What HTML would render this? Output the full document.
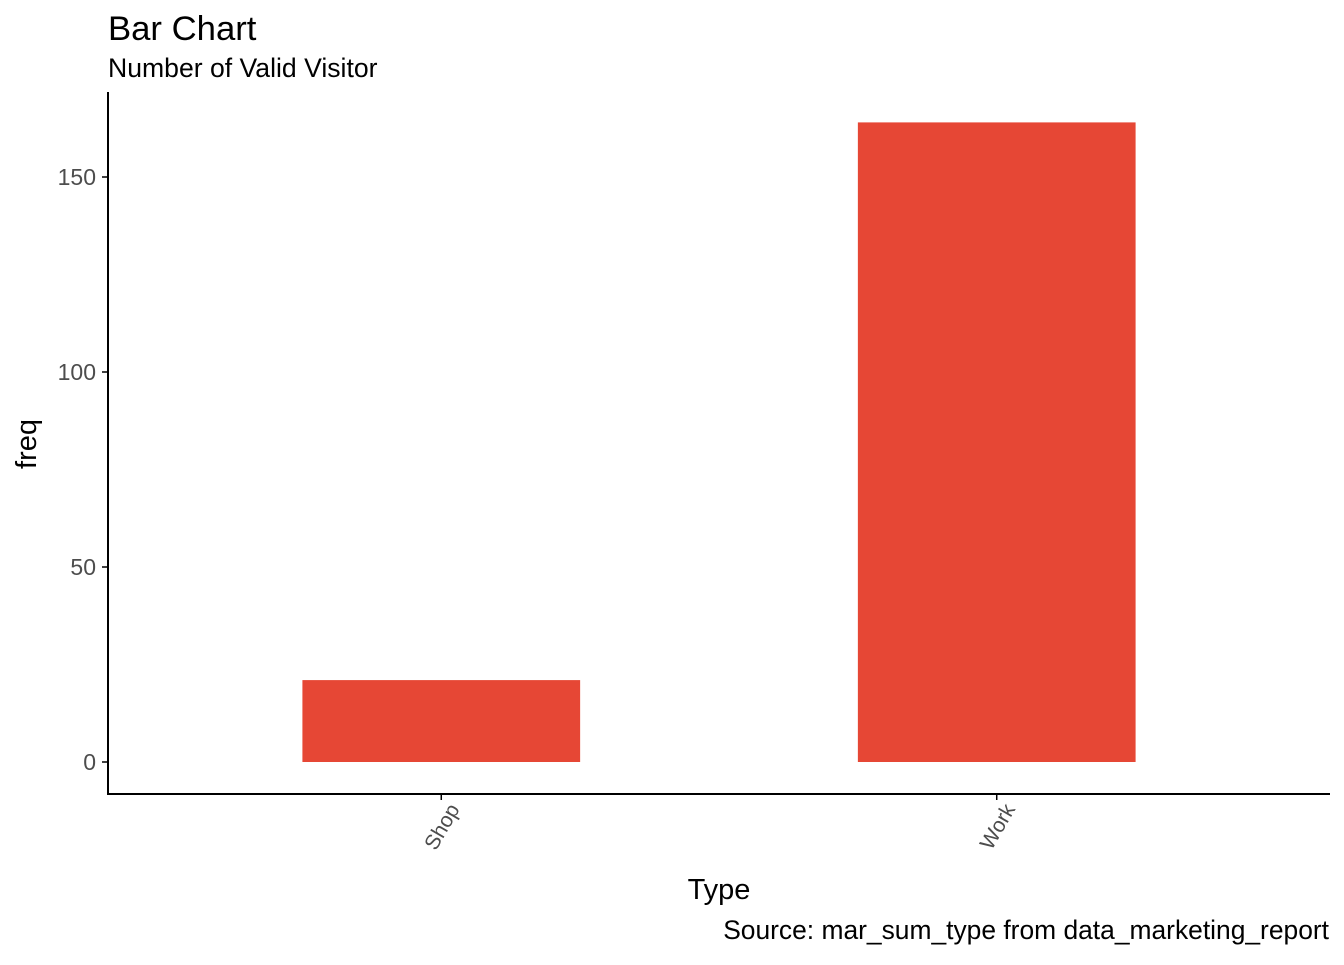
<!DOCTYPE html>
<html><head><meta charset="utf-8"><style>
html,body{margin:0;padding:0;background:#fff}
svg text{font-family:"Liberation Sans",Arial,sans-serif}
</style></head><body>
<svg id="chart" width="1344" height="960" xmlns="http://www.w3.org/2000/svg">
<text x="108" y="40" font-size="34.7" fill="#000">Bar Chart</text>
<text x="108" y="77" font-size="26.6" fill="#000">Number of Valid Visitor</text>
<g id="bars"></g>
<g id="yaxis"></g>
<g id="xaxis"></g>
<line x1="108" y1="92" x2="108" y2="795" stroke="#000" stroke-width="2"/>
<line x1="107" y1="794" x2="1330" y2="794" stroke="#000" stroke-width="2"/>
<text transform="translate(36,444) rotate(-90)" text-anchor="middle" font-size="29" fill="#000">freq</text>
<text x="719" y="899" text-anchor="middle" font-size="29" fill="#000">Type</text>
<text x="1329" y="939" text-anchor="end" font-size="26.4" fill="#000">Source: mar_sum_type from data_marketing_report</text>
</svg>
<script>
const categories = ["Shop", "Work"];
const values = [21, 164];
const yTicks = [0, 50, 100, 150];
const NS = "http://www.w3.org/2000/svg";
const plotL = 108, plotR = 1330, plotT = 92, plotB = 794;
function yScale(v){ return 762 - v * 3.9; }
const step = (plotR - plotL) / (categories.length + 0.2);
function xScale(i){ return plotL + step * (0.6 + i); }
const bw = step * 0.5;
const bars = document.getElementById('bars');
categories.forEach((c, i) => {
  const r = document.createElementNS(NS, 'rect');
  r.setAttribute('x', xScale(i) - bw / 2);
  r.setAttribute('y', yScale(values[i]));
  r.setAttribute('width', bw);
  r.setAttribute('height', yScale(0) - yScale(values[i]));
  r.setAttribute('fill', '#e64735');
  
  
  bars.appendChild(r);
});
const ya = document.getElementById('yaxis');
yTicks.forEach(t => {
  const y = yScale(t);
  const l = document.createElementNS(NS, 'line');
  l.setAttribute('x1', 102); l.setAttribute('x2', 108);
  l.setAttribute('y1', y); l.setAttribute('y2', y);
  l.setAttribute('stroke', '#000'); l.setAttribute('stroke-width', 1.5);
  
  
  ya.appendChild(l);
  const tx = document.createElementNS(NS, 'text');
  tx.setAttribute('x', 96); tx.setAttribute('y', y + 8);
  tx.setAttribute('text-anchor', 'end'); tx.setAttribute('font-size', '23');
  tx.setAttribute('fill', '#4d4d4d');
  tx.textContent = t;
  
  
  ya.appendChild(tx);
});
const xa = document.getElementById('xaxis');
categories.forEach((c, i) => {
  const x = xScale(i);
  const l = document.createElementNS(NS, 'line');
  l.setAttribute('x1', x); l.setAttribute('x2', x);
  l.setAttribute('y1', 794); l.setAttribute('y2', 800);
  l.setAttribute('stroke', '#000'); l.setAttribute('stroke-width', 1.5);
  
  
  xa.appendChild(l);
  const tx = document.createElementNS(NS, 'text');
  tx.setAttribute('transform', 'translate(' + (x + 19) + ',809) rotate(-60)');
  tx.setAttribute('text-anchor', 'end'); tx.setAttribute('font-size', '21');
  tx.setAttribute('fill', '#4d4d4d');
  tx.textContent = c;
  
  
  xa.appendChild(tx);
});
</script>
</body></html>
